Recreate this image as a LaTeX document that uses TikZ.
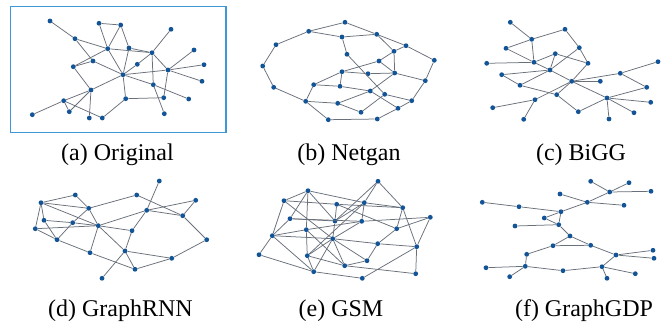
\documentclass[tikz,border=0pt]{standalone}
\usepackage{fontspec}
\setmainfont{Liberation Serif}
\definecolor{dotblue}{RGB}{18,84,150}
\definecolor{edgegray}{RGB}{105,112,122}
\definecolor{boxblue}{RGB}{62,152,215}
\tikzset{
  dot/.style={circle,fill=dotblue,inner sep=0pt,minimum size=4.8pt},
  edge/.style={draw=edgegray,line width=0.75pt},
  captext/.style={font=\fontsize{24}{28}\selectfont,anchor=center}
}
\begin{document}
\begin{tikzpicture}[x=1pt,y=-1pt]
\useasboundingbox (0,0) rectangle (667,324);
\fill[white] (0,0) rectangle (667,324);
% frame of panel (a)
\draw[boxblue,line width=1.3pt] (10.7,6.7) rectangle (226,132.7);
% ---------- panel (a)
\foreach \n/\x/\y in {a1/50/21, a2/99/23.3, a3/120.7/25, a4/171/29.3, a5/75/38.7, a6/107.7/48.7, a7/129/48, a8/152/52.7, a9/194/50, a10/93/61, a11/137.3/64.3, a12/73.3/66.7, a13/204/64.7, a14/168/70, a15/123/74.7, a16/202/81.3, a17/153.3/84.7, a18/91/90, a19/125.7/98.7, a20/163.7/97.7, a21/188.7/99, a22/63.7/100.7, a23/69.3/111.7, a24/32.3/114.7, a25/89.3/118, a26/102.3/118, a27/164.3/113.7}
  \node[dot] (\n) at (\x,\y) {};
\foreach \a/\b in {a1/a5, a5/a6, a6/a8, a7/a8, a2/a3, a2/a6, a3/a6, a3/a7, a6/a15, a7/a15, a6/a12, a10/a12, a5/a10, a10/a15, a4/a8, a8/a11, a11/a15, a8/a14, a8/a17, a15/a14, a14/a13, a14/a9, a14/a16, a14/a20, a17/a27, a19/a20, a15/a19, a19/a26, a15/a18, a18/a22, a22/a24, a22/a23, a18/a23, a18/a25, a22/a26, a15/a17, a17/a21, a12/a18}
  \draw[edge] (\a) -- (\b);
% ---------- panel (b)
\foreach \n/\x/\y in {b1/345/22.3, b2/308.7/31.3, b3/376.7/34.3, b4/342/37, b5/276/44.7, b6/406/45.7, b7/394/51.3, b8/347/54.3, b9/434.3/60.3, b10/379/61, b11/262.7/66, b12/342/71.7, b13/368/73.7, b14/394.7/73, b15/425.3/80.7, b16/313.7/84.7, b17/340/86.3, b18/273.7/87.3, b19/370.3/91, b20/384.7/94.3, b21/411.7/100.7, b22/305.7/101.3, b23/337.7/103.3, b24/398/108.3, b25/361/112.3, b26/328.3/119.7, b27/377.3/119}
  \node[dot] (\n) at (\x,\y) {};
\foreach \a/\b in {b1/b2, b1/b3, b2/b5, b5/b11, b11/b18, b18/b22, b22/b26, b26/b27, b27/b24, b24/b21, b21/b15, b15/b9, b9/b6, b6/b3, b2/b4, b4/b3, b4/b8, b3/b7, b6/b7, b7/b14, b7/b10, b10/b12, b12/b13, b13/b14, b10/b14, b14/b15, b12/b16, b12/b17, b16/b17, b17/b19, b16/b22, b22/b23, b23/b19, b25/b20, b20/b21, b23/b25, b8/b20, b14/b19, b19/b24}
  \draw[edge] (\a) -- (\b);
% ---------- panel (c)
\foreach \n/\x/\y in {c1/510.3/22.3, c2/565/29.3, c3/531.7/39.3, c4/506/48.3, c5/579.3/47.7, c6/555.3/53.7, c7/486.7/63.3, c8/534/62.3, c9/588/63.3, c10/658/61.7, c11/550/70, c12/501.7/74.7, c13/620.3/73.3, c14/571.7/81.3, c15/600.3/81.3, c16/520/85.3, c17/646.7/87.3, c18/556.7/94.7, c19/607/98, c20/535/99.7, c21/650.7/102.3, c22/492.7/107.7, c23/578.3/111.7, c24/634/112.7, c25/523.7/119.3, c26/609/119}
  \node[dot] (\n) at (\x,\y) {};
\foreach \a/\b in {c1/c3, c3/c2, c2/c5, c4/c3, c4/c8, c3/c8, c7/c8, c8/c6, c6/c11, c6/c9, c5/c9, c5/c11, c8/c11, c11/c14, c12/c11, c12/c16, c16/c11, c16/c18, c9/c14, c14/c15, c14/c13, c14/c18, c14/c20, c14/c19, c13/c10, c13/c17, c19/c17, c19/c21, c19/c24, c19/c26, c19/c23, c23/c18, c20/c22, c20/c25}
  \draw[edge] (\a) -- (\b);
% ---------- panel (d)
\foreach \n/\x/\y in {d1/159.3/181, d2/75.3/195, d3/136.7/195, d4/195.7/200.3, d5/41/202.7, d6/88.7/208.3, d7/146.7/210.3, d8/182.7/215.7, d9/44/220.3, d10/72.7/222.7, d11/98.3/225.7, d12/35.3/228.7, d13/132/230.7, d14/57/239.7, d15/206.7/239.7, d16/125/251, d17/90/252.7, d18/171.7/258.3, d19/135/269.3, d20/102/278.3}
  \node[dot] (\n) at (\x,\y) {};
\foreach \a/\b in {d5/d2, d2/d6, d5/d6, d5/d9, d5/d11, d5/d12, d9/d10, d9/d14, d12/d11, d12/d14, d10/d11, d6/d10, d10/d14, d6/d3, d6/d11, d11/d13, d11/d17, d11/d16, d11/d7, d7/d4, d4/d8, d3/d8, d7/d8, d1/d7, d7/d13, d13/d16, d16/d20, d16/d18, d16/d19, d19/d18, d18/d15, d15/d8, d17/d19, d14/d17}
  \draw[edge] (\a) -- (\b);
% ---------- panel (e)
\foreach \n/\x/\y in {e1/378/181.3, e2/308/190.7, e3/284/200.7, e4/336.7/204.3, e5/364.3/202.7, e6/402.7/207.7, e7/290/218.7, e8/430.3/217.3, e9/335/221, e10/361.7/221.3, e11/306.3/229.7, e12/396.7/228.7, e13/272.3/235.7, e14/332.7/238.7, e15/377.7/243.7, e16/416.7/246.7, e17/259/254.7, e18/307.3/255.7, e19/367/260.7, e20/344.7/265.7, e21/313.7/271.7, e22/362.3/278.3, e23/415.7/273.7}
  \node[dot] (\n) at (\x,\y) {};
\foreach \a/\b in {e2/e3, e2/e7, e2/e11, e2/e9, e2/e5, e3/e4, e4/e6, e3/e13, e3/e14, e4/e9, e4/e12, e5/e6, e5/e9, e5/e10, e5/e18, e1/e5, e1/e6, e1/e9, e6/e16, e6/e12, e7/e9, e7/e10, e7/e13, e10/e8, e8/e12, e8/e16, e11/e13, e11/e10, e11/e18, e11/e20, e13/e14, e13/e17, e13/e21, e14/e15, e14/e9, e14/e18, e14/e21, e14/e20, e14/e19, e14/e10, e15/e16, e15/e12, e15/e19, e16/e23, e16/e22, e17/e21, e18/e20, e18/e21, e19/e20, e20/e23, e21/e22}
  \draw[edge] (\a) -- (\b);
% ---------- panel (f)
\foreach \n/\x/\y in {f1/590.7/181.3, f2/629/182.7, f3/609.7/192, f4/651/191.3, f5/560/194, f6/587.3/202.3, f7/624/205.3, f8/482.3/202.3, f9/519/206.7, f10/561/211.7, f11/544.3/218, f12/558.7/224.7, f13/515/226, f14/570/236, f15/553/245.7, f16/590.7/245.3, f17/526.7/254.3, f18/616/255, f19/653/250.3, f20/654/258.3, f21/486/267.7, f22/525.3/266.3, f23/563/270.7, f24/602/266.7, f25/509.7/276.7, f26/635.3/273.7, f27/607/278.3}
  \node[dot] (\n) at (\x,\y) {};
\foreach \a/\b in {f1/f3, f2/f3, f3/f4, f3/f6, f5/f6, f6/f7, f6/f10, f8/f9, f9/f10, f10/f11, f10/f12, f11/f12, f12/f13, f12/f14, f14/f15, f14/f16, f15/f16, f15/f17, f16/f18, f18/f19, f18/f20, f18/f24, f17/f22, f21/f22, f22/f25, f22/f23, f23/f24, f24/f26, f24/f27}
  \draw[edge] (\a) -- (\b);
% ---------- captions
\node[captext] (capa) at (117.5,155) {(a) Original};
\node[captext] (capb) at (349,155) {(b) Netgan};
\node[captext] (capc) at (581,155) {(c) BiGG};
\node[captext] (capd) at (120.5,311) {(d) GraphRNN};
\node[captext] (cape) at (341,311) {(e) GSM};
\node[captext] (capf) at (584,311) {(f) GraphGDP};
\end{tikzpicture}
\end{document}
